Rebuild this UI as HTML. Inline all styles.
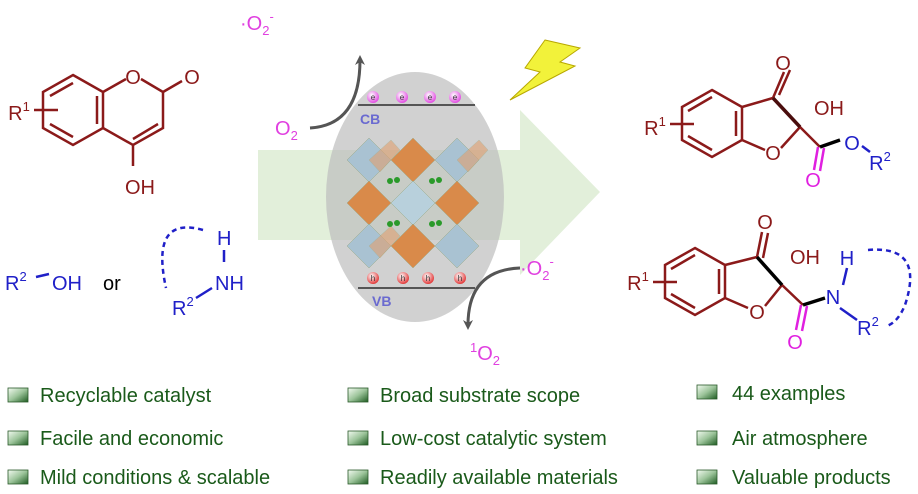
<!DOCTYPE html>
<html><head><meta charset="utf-8"><style>
body{margin:0;background:#fff;}
svg{display:block;font-family:"Liberation Sans",Arial,sans-serif;}
</style></head><body>
<svg width="918" height="494" viewBox="0 0 918 494" xmlns="http://www.w3.org/2000/svg">
<defs>
<linearGradient id="bul" x1="0" y1="0" x2="1" y2="1">
<stop offset="0" stop-color="#f4fbf2"/><stop offset="0.5" stop-color="#9cc49a"/><stop offset="1" stop-color="#1e5c22"/>
</linearGradient>
<radialGradient id="eg" cx="0.4" cy="0.35" r="0.7"><stop offset="0" stop-color="#fff"/><stop offset="1" stop-color="#e040e0"/></radialGradient>
<radialGradient id="hg" cx="0.4" cy="0.35" r="0.7"><stop offset="0" stop-color="#fff"/><stop offset="1" stop-color="#e02a2a"/></radialGradient>
<marker id="ah" markerWidth="10" markerHeight="10" refX="5" refY="5" orient="auto" markerUnits="userSpaceOnUse"><path d="M0,0 L10,5 L0,10 L3,5z" fill="#555"/></marker>
</defs>

<path d="M258,150 L520,150 L520,110 L600,192 L520,275 L520,240 L258,240 Z" fill="#e2efda"/>
<ellipse cx="415" cy="197" rx="89" ry="125" fill="#bdbdbd" opacity="0.7"/>
<line x1="358" y1="105" x2="475" y2="105" stroke="#555" stroke-width="2"/>
<line x1="358" y1="288" x2="475" y2="288" stroke="#555" stroke-width="2"/>
<g font-size="8" text-anchor="middle" fill="#333">
<circle cx="373" cy="97" r="6" fill="url(#eg)"/><circle cx="402" cy="97" r="6" fill="url(#eg)"/><circle cx="430" cy="97" r="6" fill="url(#eg)"/><circle cx="455" cy="97" r="6" fill="url(#eg)"/>
<text x="373" y="100">e</text><text x="402" y="100">e</text><text x="430" y="100">e</text><text x="455" y="100">e</text>
<circle cx="373" cy="278" r="6" fill="url(#hg)"/><circle cx="403" cy="278" r="6" fill="url(#hg)"/><circle cx="428" cy="278" r="6" fill="url(#hg)"/><circle cx="460" cy="278" r="6" fill="url(#hg)"/>
<text x="373" y="281">h</text><text x="403" y="281">h</text><text x="428" y="281">h</text><text x="460" y="281">h</text>
</g>
<text x="360" y="124" font-size="14" font-weight="bold" fill="#6a6ad0">CB</text>
<text x="372" y="306" font-size="14" font-weight="bold" fill="#6a6ad0">VB</text>
<g stroke="#9a8" stroke-width="0.5">
<path d="M347,160 L369,138 L391,160 L369,182Z" fill="#a9c2d2"/>
<path d="M391,160 L413,138 L435,160 L413,182Z" fill="#d98a4a"/>
<path d="M435,160 L457,138 L479,160 L457,182Z" fill="#a9c2d2"/>
<path d="M347,203 L369,181 L391,203 L369,225Z" fill="#d98a4a"/>
<path d="M391,203 L413,181 L435,203 L413,225Z" fill="#b8d0dc"/>
<path d="M435,203 L457,181 L479,203 L457,225Z" fill="#d98a4a"/>
<path d="M347,246 L369,224 L391,246 L369,268Z" fill="#a9c2d2"/>
<path d="M391,246 L413,224 L435,246 L413,268Z" fill="#d98a4a"/>
<path d="M435,246 L457,224 L479,246 L457,268Z" fill="#a9c2d2"/>
<path d="M369,160 L391,140 L400,150 L380,172Z" fill="#e0a070" opacity="0.6"/>
<path d="M457,160 L479,140 L488,150 L468,172Z" fill="#e0a070" opacity="0.6"/>
<path d="M369,246 L391,226 L400,236 L380,258Z" fill="#e0a070" opacity="0.6"/>
</g>
<g fill="#2a9a2a"><circle cx="390" cy="181" r="3"/><circle cx="397" cy="180" r="3"/><circle cx="432" cy="181" r="3"/><circle cx="439" cy="180" r="3"/><circle cx="390" cy="224" r="3"/><circle cx="397" cy="223" r="3"/><circle cx="432" cy="224" r="3"/><circle cx="439" cy="223" r="3"/></g>
<path d="M545,40 L580,48 L560,62 L575,66 L510,100 L540,72 L525,68 Z" fill="#f2f23a" stroke="#b8a800" stroke-width="1"/>
<path d="M310,128 Q360,125 360,60" fill="none" stroke="#555" stroke-width="3" marker-end="url(#ah)"/>
<path d="M520,268 Q468,270 468,325" fill="none" stroke="#555" stroke-width="3" marker-end="url(#ah)"/>
<g fill="#e040e0" font-size="20">
<text x="275" y="135">O<tspan font-size="13" dy="5">2</tspan></text>
<text x="240" y="30">·O<tspan font-size="13" dy="5">2</tspan><tspan font-size="13" dy="-14">-</tspan></text>
<text x="520" y="275">·O<tspan font-size="13" dy="5">2</tspan><tspan font-size="13" dy="-14">-</tspan></text>
<text x="470" y="360"><tspan font-size="13" dy="-8">1</tspan><tspan dy="8">O</tspan><tspan font-size="13" dy="5">2</tspan></text>
</g>

<!-- coumarin -->
<g stroke="#8b1a1a" stroke-width="2.5" fill="none">
<path d="M73,75 L103,92 L103,128 L73,145 L43,128 L43,92 Z"/>
<path d="M50,96 L73,83 M50,124 L73,137 M97,96 L97,124"/>
<path d="M103,92 L126,79 M141,79 L163,92 L163,128 L133,145 L103,128"/>
<path d="M163,92 L182,81 M158,124 L133,139"/>
<path d="M133,145 L133,166 M58,110 L34,110"/>
</g>
<g fill="#8b1a1a" font-size="20" text-anchor="middle">
<text x="133" y="84">O</text><text x="192" y="84">O</text><text x="140" y="194">OH</text>
<text x="19" y="120">R<tspan font-size="13" dy="-9">1</tspan></text>
</g>
<g fill="#2020c8" font-size="20">
<text x="5" y="290">R<tspan font-size="13" dy="-9">2</tspan></text>
<text x="52" y="290">OH</text>
<text x="217" y="245">H</text><text x="215" y="290">NH</text>
<text x="172" y="315">R<tspan font-size="13" dy="-9">2</tspan></text>
</g>
<text x="103" y="290" font-size="20" fill="#000">or</text>
<g stroke="#2020c8" stroke-width="2.5" fill="none">
<path d="M36,277 L49,274 M224,250 L224,262 M196,298 L212,288"/>
<path d="M203,230 Q150,215 166,288" stroke-dasharray="5,4"/>
</g>

<!-- product 1 -->
<g stroke="#8b1a1a" stroke-width="2.5" fill="none">
<path d="M712,90 L742,107 L742,140 L712,157 L682,140 L682,107 Z"/>
<path d="M688,111 L712,97 M688,136 L712,150 M736,111 L736,136"/>
<path d="M742,107 L773,98 M742,140 L765,150 M781,148 L800,127 L820,147 M773,98 L784,72 M779,95 L790,70"/>
<path d="M694,124 L670,124"/>
</g>
<path d="M773,98 L800,127" stroke="#4a0d0d" stroke-width="3.5"/>
<path d="M820,147 L840,140" stroke="#000" stroke-width="3.5"/>
<g stroke="#e020e0" stroke-width="2.5"><path d="M818,147 L814,170 M824,148 L820,171"/></g>
<path d="M862,146 L870,152" stroke="#2020c8" stroke-width="2.5"/>
<g fill="#8b1a1a" font-size="20" text-anchor="middle"><text x="783" y="70">O</text><text x="829" y="115">OH</text><text x="773" y="160">O</text>
<text x="655" y="135">R<tspan font-size="13" dy="-9">1</tspan></text></g>
<text x="813" y="187" font-size="20" fill="#e020e0" text-anchor="middle">O</text>
<g fill="#2020c8" font-size="20" text-anchor="middle"><text x="852" y="150">O</text><text x="880" y="170">R<tspan font-size="13" dy="-9">2</tspan></text></g>

<!-- product 2 -->
<g stroke="#8b1a1a" stroke-width="2.5" fill="none">
<path d="M695,248 L725,265 L725,298 L695,315 L665,298 L665,265 Z"/>
<path d="M671,269 L695,255 M671,294 L695,308 M719,269 L719,294"/>
<path d="M725,265 L757,257 M725,298 L748,308 M765,306 L782,285 L803,305 M757,257 L762,232 M763,258 L768,233"/>
<path d="M677,282 L653,282"/>
</g>
<path d="M757,257 L782,285" stroke="#000" stroke-width="3.5"/>
<path d="M803,305 L825,298" stroke="#000" stroke-width="3.5"/>
<g stroke="#e020e0" stroke-width="2.5"><path d="M801,305 L796,330 M807,306 L802,331"/></g>
<g stroke="#2020c8" stroke-width="2.5" fill="none"><path d="M847,268 L843,285 M840,308 L857,320"/>
<path d="M868,250 Q925,245 905,305 Q898,322 887,326" stroke-dasharray="5,4"/></g>
<g fill="#8b1a1a" font-size="20" text-anchor="middle"><text x="765" y="229">O</text><text x="805" y="264">OH</text><text x="757" y="319">O</text>
<text x="638" y="290">R<tspan font-size="13" dy="-9">1</tspan></text></g>
<text x="795" y="349" font-size="20" fill="#e020e0" text-anchor="middle">O</text>
<g fill="#2020c8" font-size="20" text-anchor="middle"><text x="847" y="265">H</text><text x="833" y="304">N</text><text x="868" y="335">R<tspan font-size="13" dy="-9">2</tspan></text></g>

<g fill="url(#bul)" stroke="#2a5a2a" stroke-width="0.8">
<rect x="8" y="388" width="20" height="14"/><rect x="8" y="431" width="20" height="14"/><rect x="8" y="470" width="20" height="14"/>
<rect x="348" y="388" width="20" height="14"/><rect x="348" y="431" width="20" height="14"/><rect x="348" y="470" width="20" height="14"/>
<rect x="697" y="385" width="20" height="14"/><rect x="697" y="431" width="20" height="14"/><rect x="697" y="470" width="20" height="14"/>
</g>
<g fill="#1a5a1a" font-size="20">
<text x="40" y="402">Recyclable catalyst</text>
<text x="40" y="445">Facile and economic</text>
<text x="40" y="484">Mild conditions &amp; scalable</text>
<text x="380" y="402">Broad substrate scope</text>
<text x="380" y="445">Low-cost catalytic system</text>
<text x="380" y="484">Readily available materials</text>
<text x="732" y="400">44 examples</text>
<text x="732" y="445">Air atmosphere</text>
<text x="732" y="484">Valuable products</text>
</g>
</svg>
</body></html>
